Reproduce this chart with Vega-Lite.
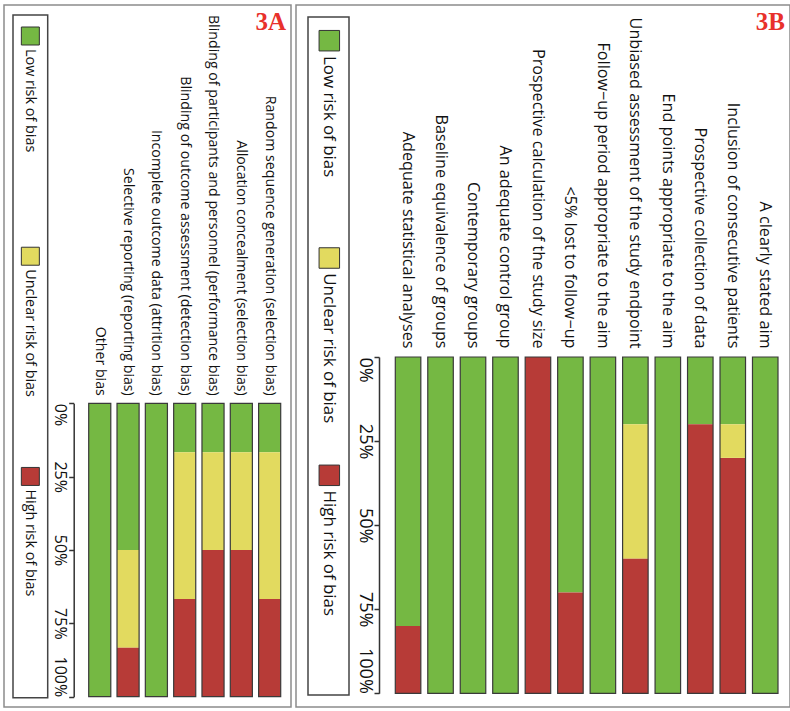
{
  "$schema": "https://vega.github.io/schema/vega-lite/v6.json",
  "padding": {"left": 3, "top": 4, "right": 0, "bottom": 0},
  "spacing": 3,
  "config": {
    "view": {"stroke": "#8c8c8c", "strokeWidth": 1.5},
    "font": "Open Sans"
  },
  "datasets": {
    "a": [
      {"item": "Other bias", "risk": "Low risk of bias", "level": 1, "pct": 100},
      {"item": "Selective reporting (reporting bias)", "risk": "Low risk of bias", "level": 1, "pct": 50},
      {"item": "Selective reporting (reporting bias)", "risk": "Unclear risk of bias", "level": 2, "pct": 33.3},
      {"item": "Selective reporting (reporting bias)", "risk": "High risk of bias", "level": 3, "pct": 16.7},
      {"item": "Incomplete outcome data (attrition bias)", "risk": "Low risk of bias", "level": 1, "pct": 100},
      {"item": "Blinding of outcome assessment (detection bias)", "risk": "Low risk of bias", "level": 1, "pct": 16.7},
      {"item": "Blinding of outcome assessment (detection bias)", "risk": "Unclear risk of bias", "level": 2, "pct": 50},
      {"item": "Blinding of outcome assessment (detection bias)", "risk": "High risk of bias", "level": 3, "pct": 33.3},
      {"item": "Blinding of participants and personnel (performance bias)", "risk": "Low risk of bias", "level": 1, "pct": 16.7},
      {"item": "Blinding of participants and personnel (performance bias)", "risk": "Unclear risk of bias", "level": 2, "pct": 33.3},
      {"item": "Blinding of participants and personnel (performance bias)", "risk": "High risk of bias", "level": 3, "pct": 50},
      {"item": "Allocation concealment (selection bias)", "risk": "Low risk of bias", "level": 1, "pct": 16.7},
      {"item": "Allocation concealment (selection bias)", "risk": "Unclear risk of bias", "level": 2, "pct": 33.3},
      {"item": "Allocation concealment (selection bias)", "risk": "High risk of bias", "level": 3, "pct": 50},
      {"item": "Random sequence generation (selection bias)", "risk": "Low risk of bias", "level": 1, "pct": 16.7},
      {"item": "Random sequence generation (selection bias)", "risk": "Unclear risk of bias", "level": 2, "pct": 50},
      {"item": "Random sequence generation (selection bias)", "risk": "High risk of bias", "level": 3, "pct": 33.3}
    ],
    "b": [
      {"item": "Adequate statistical analyses", "risk": "Low risk of bias", "level": 1, "pct": 80},
      {"item": "Adequate statistical analyses", "risk": "High risk of bias", "level": 3, "pct": 20},
      {"item": "Baseline equivalence of groups", "risk": "Low risk of bias", "level": 1, "pct": 100},
      {"item": "Contemporary groups", "risk": "Low risk of bias", "level": 1, "pct": 100},
      {"item": "An adequate control group", "risk": "Low risk of bias", "level": 1, "pct": 100},
      {"item": "Prospective calculation of the study size", "risk": "High risk of bias", "level": 3, "pct": 100},
      {"item": "<5% lost to follow−up", "risk": "Low risk of bias", "level": 1, "pct": 70},
      {"item": "<5% lost to follow−up", "risk": "High risk of bias", "level": 3, "pct": 30},
      {"item": "Follow−up period appropriate to the aim", "risk": "Low risk of bias", "level": 1, "pct": 100},
      {"item": "Unbiased assessment of the study endpoint", "risk": "Low risk of bias", "level": 1, "pct": 20},
      {"item": "Unbiased assessment of the study endpoint", "risk": "Unclear risk of bias", "level": 2, "pct": 40},
      {"item": "Unbiased assessment of the study endpoint", "risk": "High risk of bias", "level": 3, "pct": 40},
      {"item": "End points appropriate to the aim", "risk": "Low risk of bias", "level": 1, "pct": 100},
      {"item": "Prospective collection of data", "risk": "Low risk of bias", "level": 1, "pct": 20},
      {"item": "Prospective collection of data", "risk": "High risk of bias", "level": 3, "pct": 80},
      {"item": "Inclusion of consecutive patients", "risk": "Low risk of bias", "level": 1, "pct": 20},
      {"item": "Inclusion of consecutive patients", "risk": "Unclear risk of bias", "level": 2, "pct": 10},
      {"item": "Inclusion of consecutive patients", "risk": "High risk of bias", "level": 3, "pct": 70},
      {"item": "A clearly stated aim", "risk": "Low risk of bias", "level": 1, "pct": 100}
    ],
    "legend": [
      {"risk": "Low risk of bias", "i": 0},
      {"risk": "Unclear risk of bias", "i": 1},
      {"risk": "High risk of bias", "i": 2}
    ],
    "box": [{"box": 1}]
  },
  "hconcat": [
    {
      "width": 287,
      "height": 702,
      "title": {"text": "3A", "anchor": "end", "frame": "group", "font": "Liberation Serif", "fontSize": 25, "fontWeight": "bold", "color": "#e8312b", "offset": -30, "dx": -5},
      "resolve": {"scale": {"x": "independent", "y": "independent"}},
      "layer": [
        {
          "data": {"name": "a"},
          "layer": [
            {
              "mark": {"type": "bar"},
              "encoding": {
                "x": {
                  "field": "item", "type": "nominal", "sort": null,
                  "scale": {
                    "domain": ["Other bias", "Selective reporting (reporting bias)", "Incomplete outcome data (attrition bias)", "Blinding of outcome assessment (detection bias)", "Blinding of participants and personnel (performance bias)", "Allocation concealment (selection bias)", "Random sequence generation (selection bias)"],
                    "range": [84.7, 276.7], "paddingInner": 0.22, "paddingOuter": 0
                  },
                  "axis": {"orient": "top", "offset": -398.3, "title": null, "domain": false, "ticks": false, "labelAngle": 90, "labelAlign": "right", "labelBaseline": "middle", "labelPadding": 8, "labelLimit": 0, "labelFont": "Open Sans", "labelFontSize": 14.2, "labelColor": "#111"}
                },
                "y": {
                  "field": "pct", "type": "quantitative", "stack": "zero",
                  "scale": {"domain": [0, 100], "range": [398.3, 691.7], "nice": false, "zero": false},
                  "axis": {"orient": "left", "offset": -69.7, "values": [0, 25, 50, 75, 100], "labelExpr": "datum.value + '%'", "title": null, "grid": false, "domainColor": "#333", "domainWidth": 1.5, "tickColor": "#333", "tickWidth": 1.5, "tickSize": 5, "labelAngle": 90, "labelBaseline": "top", "labelAlign": {"condition": [{"test": "datum.value == 0", "value": "left"}, {"test": "datum.value == 100", "value": "right"}], "value": "center"}, "labelPadding": 1, "labelFont": "Open Sans", "labelFontSize": 16, "labelColor": "#111"}
                },
                "color": {"field": "risk", "type": "nominal", "scale": {"domain": ["Low risk of bias", "Unclear risk of bias", "High risk of bias"], "range": ["#75b843", "#e2da5f", "#b73b37"]}, "legend": null},
                "order": {"field": "level", "type": "quantitative"}
              }
            },
            {
              "mark": {"type": "bar", "fillOpacity": 0, "stroke": "#3a3a3a", "strokeWidth": 1.2},
              "encoding": {
                "x": {"field": "item", "type": "nominal", "sort": null},
                "y": {"aggregate": "sum", "field": "pct", "type": "quantitative", "stack": null}
              }
            }
          ]
        },
        {
          "layer": [
            {
              "data": {"name": "box"},
              "mark": {"type": "rect", "fill": null, "stroke": "#444", "strokeWidth": 1.5},
              "encoding": {
                "x": {"datum": 0, "type": "quantitative", "scale": {"domain": [0, 1], "range": [9, 43.7], "nice": false, "zero": false}, "axis": null},
                "x2": {"datum": 1},
                "y": {"datum": 0, "type": "quantitative", "scale": {"domain": [0, 3.1], "range": [10, 692.7], "nice": false, "zero": false}, "axis": null},
                "y2": {"datum": 3.1}
              }
            },
            {
              "data": {"name": "legend"},
              "mark": {"type": "square", "size": 324, "filled": true, "opacity": 1, "stroke": "#333", "strokeWidth": 1, "yOffset": 21},
              "encoding": {
                "x": {"datum": 0.5, "type": "quantitative"},
                "y": {"field": "i", "type": "quantitative"},
                "color": {"field": "risk", "type": "nominal", "legend": null}
              }
            },
            {
              "data": {"name": "legend"},
              "mark": {"type": "text", "angle": 90, "align": "left", "baseline": "middle", "font": "Open Sans", "fontSize": 14.4, "color": "#111", "yOffset": 34},
              "encoding": {
                "x": {"datum": 0.5, "type": "quantitative"},
                "y": {"field": "i", "type": "quantitative"},
                "text": {"field": "risk"}
              }
            }
          ]
        }
      ]
    },
    {
      "width": 494,
      "height": 702,
      "title": {"text": "3B", "anchor": "end", "frame": "group", "font": "Liberation Serif", "fontSize": 25, "fontWeight": "bold", "color": "#e8312b", "offset": -30, "dx": -5},
      "resolve": {"scale": {"x": "independent", "y": "independent"}},
      "layer": [
        {
          "data": {"name": "b"},
          "layer": [
            {
              "mark": {"type": "bar"},
              "encoding": {
                "x": {
                  "field": "item", "type": "nominal", "sort": null,
                  "scale": {
                    "domain": ["Adequate statistical analyses", "Baseline equivalence of groups", "Contemporary groups", "An adequate control group", "Prospective calculation of the study size", "<5% lost to follow−up", "Follow−up period appropriate to the aim", "Unbiased assessment of the study endpoint", "End points appropriate to the aim", "Prospective collection of data", "Inclusion of consecutive patients", "A clearly stated aim"],
                    "range": [99.3, 482], "paddingInner": 0.214, "paddingOuter": 0
                  },
                  "axis": {"orient": "top", "offset": -352, "title": null, "domain": false, "ticks": false, "labelAngle": 90, "labelAlign": "right", "labelBaseline": "middle", "labelPadding": 9, "labelLimit": 0, "labelFont": "Open Sans", "labelFontSize": 16.2, "labelColor": "#111"}
                },
                "y": {
                  "field": "pct", "type": "quantitative", "stack": "zero",
                  "scale": {"domain": [0, 100], "range": [352, 688.3], "nice": false, "zero": false},
                  "axis": {"orient": "left", "offset": -83, "values": [0, 25, 50, 75, 100], "labelExpr": "datum.value + '%'", "title": null, "grid": false, "domainColor": "#333", "domainWidth": 1.5, "tickColor": "#333", "tickWidth": 1.5, "tickSize": 5, "labelAngle": 90, "labelBaseline": "top", "labelAlign": {"condition": [{"test": "datum.value == 0", "value": "left"}, {"test": "datum.value == 100", "value": "right"}], "value": "center"}, "labelPadding": 1, "labelFont": "Open Sans", "labelFontSize": 18, "labelColor": "#111"}
                },
                "color": {"field": "risk", "type": "nominal", "scale": {"domain": ["Low risk of bias", "Unclear risk of bias", "High risk of bias"], "range": ["#75b843", "#e2da5f", "#b73b37"]}, "legend": null},
                "order": {"field": "level", "type": "quantitative"}
              }
            },
            {
              "mark": {"type": "bar", "fillOpacity": 0, "stroke": "#3a3a3a", "strokeWidth": 1.2},
              "encoding": {
                "x": {"field": "item", "type": "nominal", "sort": null},
                "y": {"aggregate": "sum", "field": "pct", "type": "quantitative", "stack": null}
              }
            }
          ]
        },
        {
          "layer": [
            {
              "data": {"name": "box"},
              "mark": {"type": "rect", "fill": null, "stroke": "#444", "strokeWidth": 1.5},
              "encoding": {
                "x": {"datum": 0, "type": "quantitative", "scale": {"domain": [0, 1], "range": [12, 53], "nice": false, "zero": false}, "axis": null},
                "x2": {"datum": 1},
                "y": {"datum": 0, "type": "quantitative", "scale": {"domain": [0, 3.12], "range": [12, 690], "nice": false, "zero": false}, "axis": null},
                "y2": {"datum": 3.12}
              }
            },
            {
              "data": {"name": "legend"},
              "mark": {"type": "square", "size": 420, "filled": true, "opacity": 1, "stroke": "#333", "strokeWidth": 1, "yOffset": 23.7},
              "encoding": {
                "x": {"datum": 0.52, "type": "quantitative"},
                "y": {"field": "i", "type": "quantitative"},
                "color": {"field": "risk", "type": "nominal", "legend": null}
              }
            },
            {
              "data": {"name": "legend"},
              "mark": {"type": "text", "angle": 90, "align": "left", "baseline": "middle", "font": "Open Sans", "fontSize": 16.9, "color": "#111", "yOffset": 39},
              "encoding": {
                "x": {"datum": 0.52, "type": "quantitative"},
                "y": {"field": "i", "type": "quantitative"},
                "text": {"field": "risk"}
              }
            }
          ]
        }
      ]
    }
  ]
}
